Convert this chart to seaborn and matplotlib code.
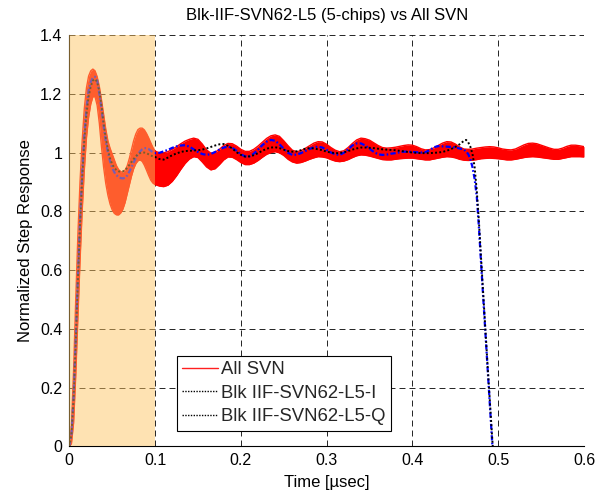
import numpy as np
import pandas as pd
import matplotlib
matplotlib.use("Agg")
import matplotlib.pyplot as plt
from matplotlib.lines import Line2D
import seaborn as sns

sns.set_theme(style="white")
plt.rcParams["font.family"] = ["Liberation Sans", "DejaVu Sans"]
plt.rcParams["lines.scale_dashes"] = False

# ---- sample times [usec] ----
t_early = np.round(np.arange(0, 0.1 + 1e-9, 0.0025), 4)      # 0 .. 0.1
t_late = np.round(np.arange(0.105, 0.6 + 1e-9, 0.005), 4)    # 0.105 .. 0.6
t_drop = np.round(np.arange(0.4625, 0.495 + 1e-9, 0.0025), 4)
time_svn = np.concatenate([t_early, t_late])
time_blk = np.concatenate([t_early, t_late[t_late <= 0.46 + 1e-9], t_drop])

# ---- All SVN: upper / lower edge of the family of step responses ----
svn_upper = [
    0.000, 0.070, 0.260, 0.500, 0.720, 0.900, 1.040, 1.150, 1.220, 1.260,
    1.278, 1.284, 1.278, 1.258, 1.225, 1.180, 1.130, 1.080, 1.040, 1.015,
    0.995, 0.975, 0.955, 0.942, 0.935, 0.933, 0.940, 0.955, 0.980, 1.010,
    1.040, 1.063, 1.078, 1.083, 1.083, 1.077, 1.065, 1.050, 1.033, 1.017,
    1.005,
    0.999, 0.999, 1.003, 1.011, 1.020, 1.030, 1.039, 1.045, 1.049, 1.045,
    1.029, 1.009, 0.998, 1.001, 1.011, 1.024, 1.031, 1.030, 1.022, 1.011,
    1.004, 1.004, 1.011, 1.022, 1.035, 1.048, 1.057, 1.060, 1.055, 1.040,
    1.023, 1.008, 1.003, 1.006, 1.014, 1.023, 1.032, 1.037, 1.036, 1.028,
    1.017, 1.008, 1.003, 1.006, 1.017, 1.031, 1.043, 1.049, 1.047, 1.042,
    1.033, 1.024, 1.017, 1.015, 1.016, 1.018, 1.021, 1.024, 1.026, 1.025,
    1.020, 1.013, 1.009, 1.010, 1.016, 1.024, 1.032, 1.037, 1.036, 1.029,
    1.019, 1.012, 1.011, 1.012, 1.015, 1.017, 1.019, 1.020, 1.019, 1.016,
    1.012, 1.010, 1.009, 1.012, 1.019, 1.026, 1.031, 1.032, 1.030, 1.025,
    1.020, 1.015, 1.011, 1.011, 1.015, 1.021, 1.025, 1.025, 1.023, 1.020,
]
svn_lower = [
    0.000, 0.010, 0.080, 0.240, 0.440, 0.630, 0.800, 0.940, 1.050, 1.120,
    1.165, 1.190, 1.190, 1.160, 1.100, 1.020, 0.950, 0.895, 0.855, 0.825,
    0.805, 0.793, 0.788, 0.788, 0.795, 0.808, 0.830, 0.860, 0.890, 0.920,
    0.945, 0.962, 0.972, 0.975, 0.970, 0.957, 0.940, 0.922, 0.906, 0.896,
    0.891,
    0.886, 0.884, 0.889, 0.902, 0.921, 0.943, 0.963, 0.978, 0.986, 0.983,
    0.968, 0.951, 0.941, 0.945, 0.959, 0.975, 0.985, 0.984, 0.976, 0.966,
    0.959, 0.959, 0.964, 0.973, 0.984, 0.994, 1.000, 1.003, 0.999, 0.990,
    0.977, 0.968, 0.964, 0.966, 0.971, 0.977, 0.982, 0.986, 0.985, 0.982,
    0.976, 0.971, 0.969, 0.971, 0.976, 0.983, 0.989, 0.992, 0.991, 0.988,
    0.984, 0.980, 0.976, 0.975, 0.975, 0.977, 0.979, 0.980, 0.981, 0.981,
    0.979, 0.977, 0.975, 0.975, 0.978, 0.981, 0.984, 0.986, 0.985, 0.982,
    0.977, 0.974, 0.973, 0.974, 0.976, 0.979, 0.980, 0.981, 0.980, 0.979,
    0.977, 0.975, 0.975, 0.977, 0.980, 0.983, 0.985, 0.986, 0.985, 0.983,
    0.981, 0.979, 0.977, 0.977, 0.980, 0.983, 0.986, 0.986, 0.986, 0.985,
]

# ---- Blk IIF-SVN62-L5, I and Q channels ----
blk_i = [
    0.000, 0.040, 0.160, 0.350, 0.560, 0.750, 0.910, 1.040, 1.130, 1.190,
    1.225, 1.245, 1.250, 1.240, 1.210, 1.160, 1.100, 1.050, 1.010, 0.980,
    0.960, 0.948, 0.940, 0.936, 0.935, 0.936, 0.940, 0.948, 0.958, 0.968,
    0.978, 0.987, 0.994, 0.998, 1.000, 1.000, 0.998, 0.994, 0.990, 0.987,
    0.985,
    0.978, 0.976, 0.983, 0.991, 0.997, 1.002, 1.005, 1.006, 1.007, 1.008,
    1.010, 1.014, 1.019, 1.024, 1.028, 1.029, 1.023, 1.014, 1.001, 0.992,
    0.986, 0.987, 0.991, 0.998, 1.006, 1.013, 1.017, 1.018, 1.015, 1.010,
    1.005, 1.003, 1.004, 1.008, 1.013, 1.015, 1.014, 1.011, 1.008, 1.003,
    1.000, 0.998, 0.998, 1.001, 1.005, 1.010, 1.014, 1.017, 1.017, 1.016,
    1.015, 1.013, 1.011, 1.010, 1.009, 1.008, 1.006, 1.004, 1.002, 1.000,
    0.999, 0.998, 0.998, 0.998, 0.999, 1.000, 1.002, 1.006, 1.012, 1.019,
    1.028, 1.040,
    1.043, 1.035, 1.020, 0.995, 0.950, 0.870, 0.765, 0.640, 0.520, 0.400,
    0.280, 0.165, 0.050, -0.060,
]
blk_q = [
    0.000, 0.040, 0.170, 0.370, 0.580, 0.770, 0.930, 1.060, 1.150, 1.210,
    1.240, 1.255, 1.258, 1.245, 1.200, 1.150, 1.090, 1.040, 1.000, 0.970,
    0.948, 0.933, 0.923, 0.916, 0.913, 0.912, 0.914, 0.922, 0.935, 0.950,
    0.966, 0.981, 0.994, 1.004, 1.011, 1.015, 1.015, 1.012, 1.006, 1.001,
    0.998,
    0.999, 1.004, 1.009, 1.016, 1.021, 1.024, 1.025, 1.020, 1.011, 1.002,
    0.995, 0.992, 0.995, 1.002, 1.010, 1.017, 1.020, 1.016, 1.006, 0.994,
    0.987, 0.987, 0.996, 1.010, 1.025, 1.037, 1.043, 1.040, 1.028, 1.013,
    0.999, 0.992, 0.993, 0.998, 1.005, 1.012, 1.018, 1.020, 1.017, 1.009,
    1.000, 0.994, 0.992, 0.999, 1.011, 1.024, 1.031, 1.031, 1.024, 1.013,
    1.002, 0.994, 0.992, 0.993, 0.996, 0.998, 1.001, 1.003, 1.003, 1.002,
    1.001, 1.000, 1.001, 1.008, 1.018, 1.022, 1.021, 1.020, 1.019, 1.017,
    1.014, 1.010,
    1.004, 0.995, 0.978, 0.950, 0.910, 0.850, 0.745, 0.624, 0.506, 0.389,
    0.271, 0.153, 0.035, -0.083,
]

legend_labels = ["All SVN", "Blk IIF-SVN62-L5-I", "Blk IIF-SVN62-L5-Q"]
x_ticks = [0, 0.1, 0.2, 0.3, 0.4, 0.5, 0.6]
x_tick_labels = ["0", "0.1", "0.2", "0.3", "0.4", "0.5", "0.6"]
y_ticks = [0, 0.2, 0.4, 0.6, 0.8, 1.0, 1.2, 1.4]
y_tick_labels = ["0", "0.2", "0.4", "0.6", "0.8", "1", "1.2", "1.4"]

svn = pd.DataFrame({"time": time_svn, "upper": svn_upper, "lower": svn_lower})
blk = pd.DataFrame({"time": time_blk, "I": blk_i, "Q": blk_q})

fig = plt.figure(figsize=(6.10, 4.94), dpi=100)
ax = fig.add_axes([0.1136, 0.0962, 0.8438, 0.8330])

# grid underneath everything
ax.set_axisbelow(True)
ax.grid(True, color="black", linewidth=0.6, linestyle=(0, (4.3, 2.9)))

# All SVN family as a filled band
ax.fill_between(svn["time"], svn["lower"], svn["upper"], color="#ff0000",
                linewidth=0, zorder=1.5)
sns.lineplot(data=svn, x="time", y="upper", color="#ff0000", linewidth=1.0,
             estimator=None, sort=False, ax=ax, zorder=1.6)
sns.lineplot(data=svn, x="time", y="lower", color="#ff0000", linewidth=1.0,
             estimator=None, sort=False, ax=ax, zorder=1.6)

# Blk IIF channels
sns.lineplot(data=blk, x="time", y="I", color="black", linewidth=1.4,
             linestyle=(0, (1.4, 1.6)), estimator=None, sort=False, ax=ax,
             zorder=2.5)
sns.lineplot(data=blk, x="time", y="Q", color="#0000ff", linewidth=1.6,
             linestyle=(0, (3.8, 1.6, 1.2, 1.6)), estimator=None, sort=False,
             ax=ax, zorder=2.4)

# transient window shading
ax.axvspan(0, 0.1, color="#fdc35f", alpha=0.48, linewidth=0, zorder=4)

ax.set_xlim(0, 0.6)
ax.set_ylim(0, 1.4)
ax.set_xticks(x_ticks)
ax.set_xticklabels(x_tick_labels)
ax.set_yticks(y_ticks)
ax.set_yticklabels(y_tick_labels)
ax.tick_params(direction="in", length=4, width=0.6, labelsize=11.5, pad=5,
               colors="black")

for side in ("top", "right"):
    ax.spines[side].set_visible(False)
for side in ("left", "bottom"):
    ax.spines[side].set_color("black")
    ax.spines[side].set_linewidth(0.8)

ax.set_title("Blk-IIF-SVN62-L5 (5-chips) vs All SVN", fontsize=12, pad=11,
             color="black")
ax.set_xlabel("Time [\u00b5sec]", fontsize=12, labelpad=5, color="black")
ax.set_ylabel("Normalized Step Response", fontsize=12, labelpad=5,
              color="black")

handles = [
    Line2D([], [], color="#ff2020", linewidth=1.0),
    Line2D([], [], color="black", linewidth=1.0, linestyle=(0, (1.0, 1.0))),
    Line2D([], [], color="black", linewidth=1.0, linestyle=(0, (1.0, 1.0))),
]
leg = ax.legend(handles, legend_labels, loc="lower left",
                bbox_to_anchor=(0.209, 0.0377), borderaxespad=0,
                fontsize=13.3, frameon=True, fancybox=False, framealpha=1,
                edgecolor="black", handlelength=1.9, handletextpad=0.2,
                labelspacing=0.36, borderpad=0.3)
leg.get_frame().set_linewidth(0.8)
leg.set_zorder(6)

fig.savefig("out.png", dpi=100)
